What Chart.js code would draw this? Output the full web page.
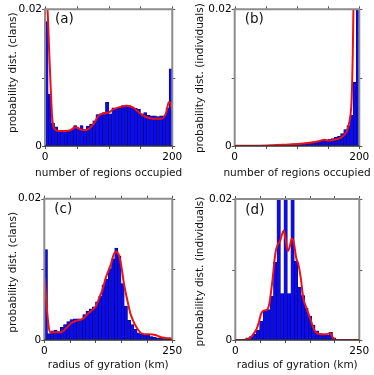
<!DOCTYPE html>
<html><head><meta charset="utf-8">
<script src="https://cdn.jsdelivr.net/npm/chart.js@4"></script>
<style>
html,body{margin:0;padding:0;background:#fff;width:374px;height:375px;overflow:hidden}
canvas{position:absolute;display:block}
</style></head><body>
<canvas id="ca" width="187" height="188" style="left:0;top:0"></canvas>
<canvas id="cb" width="187" height="188" style="left:187px;top:0"></canvas>
<canvas id="cc" width="187" height="187" style="left:0;top:188px"></canvas>
<canvas id="cd" width="187" height="187" style="left:187px;top:188px"></canvas>
<script>
// ---------- data ----------
// bin centres (number of regions occupied, 5-wide bins)
const regionBins = [2.5,7.5,12.5,17.5,22.5,27.5,32.5,37.5,42.5,47.5,52.5,57.5,62.5,67.5,72.5,77.5,82.5,87.5,92.5,97.5,
  102.5,107.5,112.5,117.5,122.5,127.5,132.5,137.5,142.5,147.5,152.5,157.5,162.5,167.5,172.5,177.5,182.5,187.5,192.5,197.5];
// (a) clans
const clanRegionHist = [0.0182,0.0076,0.0033,0.0028,0.0023,0.0022,0.0022,0.0022,0.0024,0.0030,0.0025,0.0030,0.0024,0.0029,0.0032,0.0037,0.0046,0.0047,0.0049,0.0064,
  0.0047,0.0056,0.0055,0.0055,0.0059,0.0060,0.0059,0.0056,0.0055,0.0054,0.0047,0.0049,0.0045,0.0044,0.0044,0.0043,0.0044,0.0044,0.0056,0.0113];
const clanRegionFitX = [0,2,4.5,6.5,8.8,11,13,16,21,30,40,46,50,56,63,70,76,84,94,100,108,118,128,139,149,160,170,183,190.5,194.5,197,200];
const clanRegionFitY = [0.0215,0.022,0.019,0.014,0.0089,0.0045,0.0029,0.0024,0.0022,0.0022,0.0023,0.0027,0.0027,0.0024,0.0023,0.0026,0.0032,0.0044,0.0048,0.0049,0.0054,0.0057,0.0059,0.0056,0.0048,0.0042,0.0040,0.0040,0.0049,0.0064,0.0063,0.0052];
// (b) individuals
const indivRegionHist = [0,0,0,0,0,0,0,0,0,0,0.0001,0.0001,0.0001,0.0001,0.0001,0.0001,0.0002,0.0002,0.0003,0.0003,
  0.0003,0.0004,0.0004,0.0005,0.0005,0.0006,0.0007,0.0008,0.0009,0.0009,0.0010,0.0011,0.0013,0.0014,0.0018,0.0024,0.0030,0.0045,0.0093,0.0300];
const indivRegionFitX = [0,20,40,60,82,102,123,135,144,150,160,170,175.5,180.7,184,187,188.5,189.6,190.6,191.5];
const indivRegionFitY = [0.00005,0.00005,0.00005,0.0001,0.0002,0.0003,0.0005,0.0007,0.0009,0.0008,0.0009,0.0012,0.0016,0.0023,0.0035,0.0056,0.009,0.0137,0.02,0.026];
// (c) clans, radius of gyration (6.25 km bins)
const clanRadiusBins = [3.125,9.375,15.625,21.875,28.125,34.375,40.625,46.875,53.125,59.375,65.625,71.875,78.125,84.375,90.625,96.875,103.125,109.375,115.625,121.875,
  128.125,134.375,140.625,146.875,153.125,159.375,165.625,171.875,178.125,184.375,190.625,196.875,203.125,209.375,215.625,221.875,228.125,234.375,240.625,246.875];
const clanRadiusHist = [0.0128,0.0009,0.0013,0.0014,0.0012,0.0018,0.0022,0.0026,0.0029,0.0030,0.0030,0.0030,0.0036,0.0041,0.0044,0.0047,0.0054,0.0062,0.0078,0.0086,
  0.0101,0.0115,0.0130,0.0119,0.0080,0.0048,0.0028,0.0022,0.0015,0.0010,0.0008,0.0008,0.0007,0.0005,0.0004,0.0003,0.0003,0.0002,0.0002,0.0002];
const clanRadiusFitX = [0,2,4.5,8,11,20,33,43,53,62,75,85,94.5,101,107,114,120,130,136,140,143,147,151,156,162,168,172,180,191,205,217,228,236,250];
const clanRadiusFitY = [0.0088,0.0075,0.005,0.0022,0.0011,0.0011,0.0011,0.0017,0.0024,0.0027,0.0030,0.0037,0.0043,0.0048,0.0059,0.0072,0.0088,0.0107,0.0122,0.0125,0.0124,0.0117,0.0102,0.0078,0.0057,0.0038,0.0030,0.0018,0.0009,0.0008,0.0007,0.0004,0.0003,0.0002];
// (d) individuals, radius of gyration (7 km bins)
const indivRadiusBins = [3.5,10.5,17.5,24.5,31.5,38.5,45.5,52.5,59.5,66.5,73.5,80.5,87.5,94.5,101.5,108.5,115.5,122.5,
  129.5,136.5,143.5,150.5,157.5,164.5,171.5,178.5,185.5,192.5,199.5,206.5,213.5,220.5,227.5,234.5,241.5,248.5];
const indivRadiusHist = [0,0,0.0001,0.0003,0.0005,0.0008,0.0014,0.0027,0.0042,0.0043,0.0062,0.0110,0.0300,0.0066,0.0300,0.0066,0.0300,0.0112,
  0.0075,0.0063,0.0045,0.0034,0.0021,0.0013,0.0009,0.0008,0.0007,0.0011,0.0003,0,0,0,0,0,0,0];
const indivRadiusFitX = [0,20,30,36,42.5,47.8,52.4,59,64,68.7,74.5,81,86,90,97.5,101,106,110,114,118,123,127,132,137,143.5,150,160,173,182,188,191,196,203,250];
const indivRadiusFitY = [0,0.00005,0.0003,0.0008,0.0015,0.0026,0.0038,0.0042,0.0043,0.0052,0.0082,0.0124,0.0136,0.0140,0.0155,0.0145,0.0126,0.0133,0.0144,0.0138,0.0116,0.0108,0.0088,0.0060,0.0045,0.0033,0.0013,0.0008,0.0008,0.0009,0.0010,0.0004,0,0];

const xTitleRegions = 'number of regions occupied';
const xTitleRadius = 'radius of gyration (km)';
const yTitleClans = 'probability dist. (clans)';
const yTitleIndiv = 'probability dist. (individuals)';

// ---------- drawing ----------
const FONT = '"DejaVu Sans", sans-serif';
const pairs = (xs, ys) => xs.map((x, i) => ({x, y: ys[i]}));
const edgeLabel = (v, i, t) => (i === 0 || i === t.length - 1) ? String(+v.toFixed(3)) : '';

const framePlugin = {
  id: 'frame',
  afterDatasetsDraw(chart, args, o) {
    const {ctx, chartArea: a} = chart;
    const xs = chart.scales.x, ys = chart.scales.y;
    ctx.save();
    ctx.strokeStyle = '#555'; ctx.lineWidth = 1;
    ctx.beginPath();
    for (const t of xs.ticks) {
      const p = Math.round(xs.getPixelForValue(t.value)) + 0.5;
      ctx.moveTo(p, a.bottom); ctx.lineTo(p, a.bottom + 3);
      ctx.moveTo(p, a.top); ctx.lineTo(p, a.top - 3);
    }
    for (const t of ys.ticks) {
      const p = Math.round(ys.getPixelForValue(t.value)) + 0.5;
      ctx.moveTo(a.left, p); ctx.lineTo(a.left - 3, p);
      ctx.moveTo(a.right, p); ctx.lineTo(a.right + 3, p);
    }
    ctx.stroke();
    ctx.lineWidth = 2; ctx.strokeStyle = '#8c8c8c';
    ctx.beginPath();
    ctx.moveTo(a.left, a.bottom); ctx.lineTo(a.left, a.top); ctx.lineTo(a.right, a.top); ctx.lineTo(a.right, a.bottom);
    ctx.stroke();
    ctx.lineWidth = 1.5; ctx.strokeStyle = '#333';
    ctx.beginPath(); ctx.moveTo(a.left, a.bottom); ctx.lineTo(a.right, a.bottom); ctx.stroke();
    // panel label
    ctx.font = '13.5px ' + FONT; ctx.fillStyle = '#111'; ctx.textBaseline = 'middle'; ctx.textAlign = 'left';
    ctx.fillText(o.label, a.left + o.lx, a.top + o.ly);
    // axis titles (drawn at natural width)
    ctx.font = '10.5px ' + FONT; ctx.textAlign = 'center';
    ctx.fillText(o.xTitle, (a.left + a.right) / 2, o.xTitleY);
    ctx.translate(o.yTitleX, (a.top + a.bottom) / 2 + o.yTitleShift);
    ctx.rotate(-Math.PI / 2);
    ctx.fillText(o.yTitle, 0, 0);
    ctx.restore();
  }
};

function makePanel(id, cfg) {
  const h = cfg.h;
  new Chart(document.getElementById(id), {
    type: 'bar',
    data: {
      datasets: [
        {type: 'line', data: pairs(cfg.fitX, cfg.fitY), borderColor: '#ee1111', borderWidth: 2,
         pointRadius: 0, cubicInterpolationMode: 'monotone', fill: false, order: 0},
        {type: 'bar', data: pairs(cfg.bins, cfg.hist), backgroundColor: '#0b0bee', borderColor: '#00006e',
         borderWidth: 0.6, borderSkipped: false, barPercentage: 1, categoryPercentage: 1, order: 1}
      ]
    },
    options: {
      responsive: false, animation: false, devicePixelRatio: 1,
      layout: {padding: {left: 0, top: cfg.top, right: cfg.w - cfg.right, bottom: 0}},
      plugins: {legend: {display: false}, tooltip: {enabled: false},
        frame: {label: cfg.label, lx: 10, ly: cfg.ly, xTitle: cfg.xTitle, xTitleY: cfg.xTitleY,
                yTitle: cfg.yTitle, yTitleX: 13, yTitleShift: cfg.yShift}},
      scales: {
        x: {type: 'linear', min: 0, max: cfg.xmax, offset: false,
            grid: {display: false, drawTicks: false}, border: {display: false},
            ticks: {stepSize: 50, autoSkip: false, maxRotation: 0, padding: 4.7, color: '#000',
                    font: {family: FONT, size: 10.5}, callback: edgeLabel},
            title: {display: false},
            afterFit: s => { s.height = h - cfg.bottom; }},
        y: {type: 'linear', min: 0, max: 0.02,
            grid: {display: false, drawTicks: false}, border: {display: false},
            ticks: {stepSize: 0.01, autoSkip: false, padding: 3, color: '#000',
                    font: {family: FONT, size: 10.5}, callback: edgeLabel},
            title: {display: false},
            afterFit: s => { s.width = cfg.left; }}
      }
    },
    plugins: [framePlugin]
  });
}

makePanel('ca', {w: 187, h: 188, left: 45, right: 174, top: 6, bottom: 146, xmax: 200, xTitleY: 173.5, yShift: -5, ly: 10,
  label: '(a)', bins: regionBins, hist: clanRegionHist, fitX: clanRegionFitX, fitY: clanRegionFitY,
  xTitle: xTitleRegions, yTitle: yTitleClans});
makePanel('cb', {w: 187, h: 188, left: 47.7, right: 175.7, top: 6, bottom: 146, xmax: 200, xTitleY: 173.3, yShift: 0.5, ly: 10,
  label: '(b)', bins: regionBins, hist: indivRegionHist, fitX: indivRegionFitX, fitY: indivRegionFitY,
  xTitle: xTitleRegions, yTitle: yTitleIndiv});
makePanel('cc', {w: 187, h: 187, left: 44.3, right: 174, top: 10.7, bottom: 152, xmax: 250, xTitleY: 177.5, yShift: 3, ly: 11,
  label: '(c)', bins: clanRadiusBins, hist: clanRadiusHist, fitX: clanRadiusFitX, fitY: clanRadiusFitY,
  xTitle: xTitleRadius, yTitle: yTitleClans});
makePanel('cd', {w: 187, h: 187, left: 48.3, right: 175.7, top: 11, bottom: 152, xmax: 250, xTitleY: 177.5, yShift: 2, ly: 11,
  label: '(d)', bins: indivRadiusBins, hist: indivRadiusHist, fitX: indivRadiusFitX, fitY: indivRadiusFitY,
  xTitle: xTitleRadius, yTitle: yTitleIndiv});
</script>
</body></html>
